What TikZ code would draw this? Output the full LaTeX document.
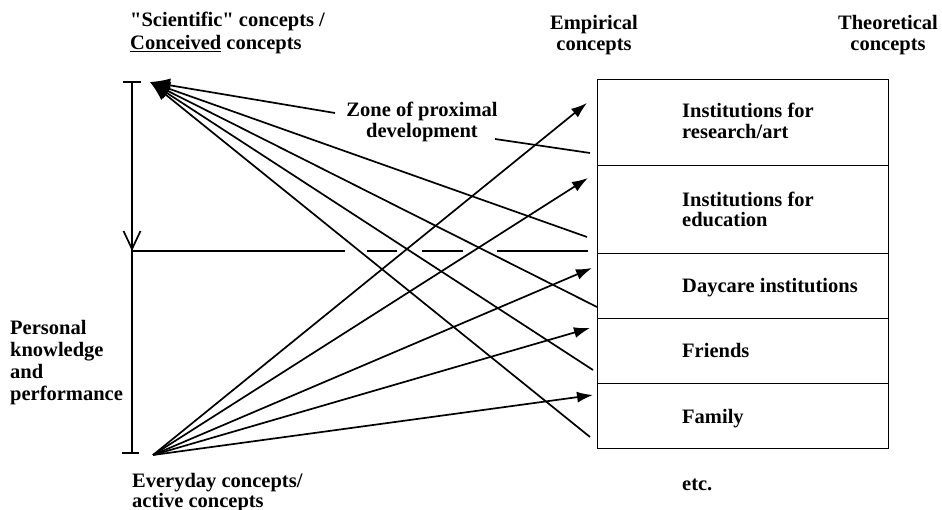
\documentclass[tikz,border=0pt]{standalone}
\usepackage{fontspec}
\setmainfont{Liberation Serif}[Ligatures=TeXOff]
\usetikzlibrary{arrows.meta}
\begin{document}
\begin{tikzpicture}[x=1pt,y=-1pt,
  lbl/.style={font=\bfseries\fontsize{20.5}{22}\selectfont, inner sep=0pt},
  ln/.style={line width=1.7pt},
  upar/.style={ln, -{Latex[length=16pt,width=11pt]}},
  toar/.style={ln, -{Latex[length=20pt,width=14pt]}},
  row/.style={draw, line width=1.4pt, minimum width=291pt, inner sep=0pt, anchor=north west}]
\useasboundingbox (0,0) rectangle (942,510);
% key points
\coordinate (top) at (150,82);
\coordinate (bot) at (153,455);
% box rows
\node[row, minimum height=86pt] (r1) at (597,79) {};
\node[row, minimum height=88pt] (r2) at (597,165) {};
\node[row, minimum height=65pt] (r3) at (597,253) {};
\node[row, minimum height=65pt] (r4) at (597,318) {};
\node[row, minimum height=65pt] (r5) at (597,383) {};
% row texts (base anchor = baseline of last line)
\node[lbl, anchor=base west, align=left, font=\bfseries\fontsize{20.5}{21}\selectfont] (tr1) at (682,139) {Institutions for\\research/art};
\node[lbl, anchor=base west, align=left, font=\bfseries\fontsize{20.5}{20}\selectfont] (tr2) at (682,227) {Institutions for\\education};
\node[lbl, anchor=base west] (tr3) at (682,293) {Daycare institutions};
\node[lbl, anchor=base west] (tr4) at (682,358) {Friends};
\node[lbl, anchor=base west] (tr5) at (682,423) {Family};
\node[lbl, anchor=base west] (etc) at (682,490) {etc.};
% headings
\node[lbl, anchor=base west, align=left, font=\bfseries\fontsize{20.5}{23}\selectfont] (sci) at (130,50) {"Scientific" concepts /\\\underline{Conceived} concepts};
\node[lbl, anchor=base, align=center, font=\bfseries\fontsize{20.5}{21}\selectfont] (emp) at (594,51) {Empirical\\concepts};
\node[lbl, anchor=base, align=center, font=\bfseries\fontsize{20.5}{21}\selectfont] (theo) at (888,51) {Theoretical\\concepts};
\node[lbl, anchor=base, align=center, font=\bfseries\fontsize{20.5}{21}\selectfont] (zone) at (422,138) {Zone of proximal\\development};
\node[lbl, anchor=base west, align=left, font=\bfseries\fontsize{20.5}{21.7}\selectfont] (pers) at (10,400) {Personal\\knowledge\\and\\performance};
\node[lbl, anchor=base west, align=left, font=\bfseries\fontsize{20.5}{17}\selectfont] (every) at (132,507) {Everyday concepts/\\active concepts};
% bracket on the left
\coordinate (brT) at (132,82);
\coordinate (brM) at (132,251);
\coordinate (brB) at (132,453);
\coordinate (hE) at (588,251);
\draw[ln] (123,82) -- (141,82);
\draw[ln] (122,453) -- (139,453);
\draw[ln] (brT) -- (brB);
\draw[ln, -{Straight Barb[length=18pt,width=17pt]}] (brT) -- (brM);
\draw[ln, dash pattern=on 213pt off 22pt on 30pt off 25pt on 41pt off 34pt on 91pt off 20pt] (brM) -- (hE);
% zone of proximal development lines
\coordinate (z1) at (335,113);
\coordinate (z2) at (495,139);
\coordinate (z3) at (590,153);
\draw[toar] (z1) -- (top);
\draw[ln] (z2) -- (z3);
% lines from box edge to the scientific concepts
\coordinate (e1) at (587,237);
\coordinate (e2) at (597,307);
\coordinate (e3) at (593,370);
\coordinate (e4) at (590,437);
\foreach \e in {e1,e2,e3,e4} \draw[toar] (\e) -- (top);
% arrows from everyday concepts to the box
\coordinate (t1) at (587,103);
\coordinate (t2) at (588,178);
\coordinate (t3) at (592,268);
\coordinate (t4) at (590,328);
\coordinate (t5) at (593,395);
\foreach \t in {t1,t2,t3,t4,t5} \draw[upar] (bot) -- (\t);
\end{tikzpicture}
\end{document}
